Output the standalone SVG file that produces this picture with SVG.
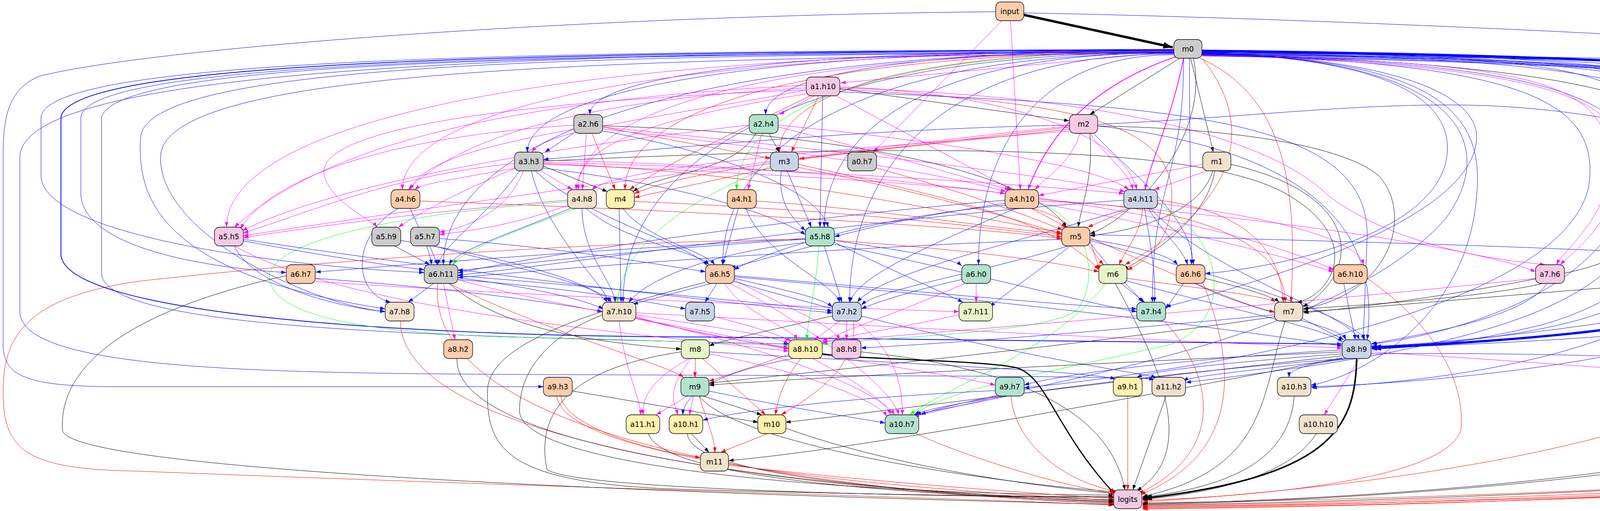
<svg xmlns="http://www.w3.org/2000/svg" width="5416" height="1307" viewBox="0 0 5416 1307">
<style>
#edges path{fill:none;stroke-width:1}
.b{stroke:#0000ff;marker-end:url(#ab)}
.m{stroke:#ff00ff;marker-end:url(#am)}
.r{stroke:#ff0000;marker-end:url(#ar)}
.g{stroke:#00ff00;marker-end:url(#ag)}
.k{stroke:#000000;marker-end:url(#ak)}
#edges .w2{stroke-width:2}
#edges .w3{stroke-width:3;marker-end:url(#akM)}
#edges .w4{stroke-width:4;marker-end:url(#akB)}
#edges .kT{stroke:#000000;stroke-width:6;marker-end:url(#akB)}
#edges .bT{stroke:#0000ff;stroke-width:6;marker-end:url(#abB)}
.n rect{stroke:#000;stroke-width:1.3}
.n text{font-family:"DejaVu Sans","Liberation Sans",sans-serif;font-size:18.67px;text-anchor:middle;fill:#000}
.c1{fill:#b3e2cd}.c2{fill:#fdcdac}.c3{fill:#cbd5e8}.c4{fill:#f4cae4}.c5{fill:#e6f5c9}.c6{fill:#fff2ae}.c7{fill:#f1e2cc}.c8{fill:#cccccc}
</style>
<defs>
<marker id="ab" viewBox="0 0 10 7" refX="10" refY="3.5" markerWidth="13" markerHeight="9" orient="auto" markerUnits="userSpaceOnUse"><path d="M0,0L10,3.5L0,7z" fill="#0000ff"/></marker>
<marker id="am" viewBox="0 0 10 7" refX="10" refY="3.5" markerWidth="13" markerHeight="9" orient="auto" markerUnits="userSpaceOnUse"><path d="M0,0L10,3.5L0,7z" fill="#ff00ff"/></marker>
<marker id="ar" viewBox="0 0 10 7" refX="10" refY="3.5" markerWidth="13" markerHeight="9" orient="auto" markerUnits="userSpaceOnUse"><path d="M0,0L10,3.5L0,7z" fill="#ff0000"/></marker>
<marker id="ag" viewBox="0 0 10 7" refX="10" refY="3.5" markerWidth="13" markerHeight="9" orient="auto" markerUnits="userSpaceOnUse"><path d="M0,0L10,3.5L0,7z" fill="#00ff00"/></marker>
<marker id="ak" viewBox="0 0 10 7" refX="10" refY="3.5" markerWidth="13" markerHeight="9" orient="auto" markerUnits="userSpaceOnUse"><path d="M0,0L10,3.5L0,7z" fill="#000000"/></marker>
<marker id="akM" viewBox="0 0 10 7" refX="10" refY="3.5" markerWidth="17" markerHeight="12" orient="auto" markerUnits="userSpaceOnUse"><path d="M0,0L10,3.5L0,7z" fill="#000000"/></marker>
<marker id="akB" viewBox="0 0 10 7" refX="10" refY="3.5" markerWidth="24" markerHeight="17" orient="auto" markerUnits="userSpaceOnUse"><path d="M0,0L10,3.5L0,7z" fill="#000000"/></marker>
<marker id="abB" viewBox="0 0 10 7" refX="10" refY="3.5" markerWidth="24" markerHeight="17" orient="auto" markerUnits="userSpaceOnUse"><path d="M0,0L10,3.5L0,7z" fill="#0000ff"/></marker>
</defs>
<rect width="5416" height="1307" fill="#ffffff"/>
<g id="edges">
<path class="kT" d="M2621,38 L3002,121"/>
<path class="m" d="M2565,53 L2236,389"/>
<path class="m" d="M2587,53 L2612,485"/>
<path class="b" d="M2621,33 C3300,45 4600,100 5000,150 C5200,175 5300,190 5340,199"/>
<path class="b" d="M2549,30 C1500,40 400,120 100,195 C20,230 8,300 8,400 L8,880 C8,960 60,989 300,989 L1391,989"/>
<path class="m" d="M3005,132 L2152,212"/>
<path class="k" d="M3020,149 L2790,293"/>
<path class="b" d="M3005,128 C1884,128 1510,210 1510,293"/>
<path class="b" d="M3005,130 C2221,130 1960,211 1960,293"/>
<path class="k" d="M3048,149 L3106,389"/>
<path class="b" d="M3005,129 C1764,129 1350,259 1350,389"/>
<path class="r" d="M3005,132 C2248,132 1995,260 1995,389"/>
<path class="g" d="M3005,131 C2166,131 1886,308 1886,485"/>
<path class="m w2" d="M3010,145 C2850,200 2700,300 2632,485"/>
<path class="m w2" d="M3030,149 C3000,300 2950,400 2931,485"/>
<path class="m" d="M3005,131 C1524,131 1030,308 1030,485"/>
<path class="m" d="M3005,133 C1861,133 1480,309 1480,485"/>
<path class="r" d="M3005,134 C1951,134 1600,310 1600,485"/>
<path class="m" d="M3005,131 C1186,131 580,356 580,581"/>
<path class="b" d="M3005,135 C2334,135 2110,358 2110,581"/>
<path class="b" d="M3005,130 C1603,130 1135,404 1135,677"/>
<path class="b" d="M3005,136 C2139,136 1850,407 1850,677"/>
<path class="b" d="M3005,140 C2630,140 2505,409 2505,677"/>
<path class="b" d="M3005,134 C1948,134 1595,454 1595,773"/>
<path class="b" d="M3005,138 C2383,138 2175,456 2175,773"/>
<path class="b" d="M3030,149 C3030,460 2950,460 2950,773"/>
<path class="r" d="M3077,149 C3200,300 3200,500 2880,677"/>
<path class="b" d="M3045,149 C3045,400 3050,500 3050,677"/>
<path class="b" d="M3005,133 C1500,140 300,150 260,300 L260,700 C270,850 1200,860 2019,880"/>
<path class="b w2" d="M3005,127 C1500,135 180,145 156,300 L156,650 C160,800 1000,860 1800,862 L3436,880"/>
<path class="b" d="M3005,126 C1500,132 120,140 105,300 L105,450 C110,600 700,680 1086,697"/>
<path class="b" d="M3005,130 C1500,138 220,150 207,300 L207,500 C220,650 600,690 733,697"/>
<path class="b" d="M3005,134 C1500,140 380,160 360,350 C350,500 400,700 986,790"/>
<path class="b" d="M3005,136 C1500,150 420,180 411,400 C405,600 800,780 986,797"/>
<path class="b" d="M3005,127 C1500,135 60,160 51,400 L51,800 C60,950 700,955 1400,958 C2200,962 2800,960 2955,970"/>
<path class="bT" d="M3077,130 C4000,140 4550,170 4620,200 C4660,230 4650,400 4650,600 C4650,780 4300,850 3512,890"/>
<path class="b" d="M3077,132 C4000,145 4340,170 4360,300 C4380,450 4300,700 4100,800 C3900,870 3600,885 3512,885"/>
<path class="b" d="M3077,134 C4100,150 4440,190 4445,350 C4450,550 4200,760 3950,830 C3750,880 3600,890 3512,893"/>
<path class="b" d="M3077,131 C3900,140 4170,170 4200,300 C4230,450 4150,650 3900,770 C3750,840 3600,870 3512,880"/>
<path class="b" d="M3077,136 C4100,150 4450,200 4460,500 C4470,800 4000,960 3358,992"/>
<path class="b" d="M3077,141 C4000,160 4220,250 4210,500 C4200,800 3700,900 3036,978"/>
<path class="b" d="M3077,139 C3900,160 4080,260 4070,450 C4060,700 3500,900 2622,992"/>
<path class="b" d="M3077,135 C3600,150 3780,250 3780,350 C3780,500 3500,650 2984,785"/>
<path class="b" d="M3077,136 C3650,150 3730,300 3700,420 C3650,600 3300,680 3085,700"/>
<path class="k" d="M3077,138 C4000,160 4350,250 4345,400 C4340,550 4200,660 4000,700 C3700,760 3450,790 3337,800"/>
<path class="m" d="M3077,141 C3950,165 4150,250 4150,400 C4150,560 4020,650 3995,677"/>
<path class="b" d="M3077,133 C4200,140 4580,180 4580,420 L4580,677"/>
<path class="b" d="M3077,135 C4400,145 4769,190 4769,420 L4769,677"/>
<path class="b" d="M3077,138 C4300,150 4850,190 4850,500 C4850,750 4750,900 4712,965"/>
<path class="b" d="M3077,139 C4400,155 4900,200 4900,500 C4900,750 4830,900 4808,965"/>
<path class="b" d="M3077,140 C4500,160 5000,220 5000,500 L5000,1000 C5000,1100 4970,1130 4965,1157"/>
<path class="b" d="M3077,142 C4600,165 5050,230 5050,500 L5050,1157"/>
<path class="b" d="M3077,143 C4700,170 5200,250 5200,500 L5200,1157"/>
<path class="b" d="M3077,137 C4500,155 5000,180 5060,220 C5090,245 5100,270 5106,293"/>
<path class="b" d="M3077,134 C4500,150 5150,170 5237,205"/>
<path class="m" d="M3077,140 C3900,160 4100,200 4120,400 C4130,550 4000,640 3985,677"/>
<path class="k" d="M3055,149 C3100,350 2900,560 2790,598"/>
<path class="r" d="M3072,149 C3300,250 3320,500 3305,773"/>
<path class="b" d="M3077,137 C3700,150 3800,300 3780,500 C3760,800 3500,960 3356,985"/>
<path class="b" d="M3077,136 C3800,150 3820,400 3700,560 C3400,900 2500,1000 2357,1061"/>
<path class="k" d="M2150,227 L2737,309"/>
<path class="m" d="M2085,245 L1995,293"/>
<path class="m" d="M2064,230 C1700,300 1400,330 1362,389"/>
<path class="r" d="M2096,245 L2026,389"/>
<path class="m" d="M2064,225 C1400,260 1150,380 1045,485"/>
<path class="m" d="M2064,240 C1700,300 1480,360 1475,485"/>
<path class="r" d="M2075,245 C1900,330 1700,420 1612,485"/>
<path class="m" d="M2140,245 L2590,485"/>
<path class="m" d="M2150,222 C2600,240 2880,350 2910,485"/>
<path class="m" d="M2064,218 C1200,260 800,400 600,581"/>
<path class="m" d="M2064,230 C1300,260 800,330 830,450 C850,520 950,560 965,581"/>
<path class="b" d="M2106,245 L2099,581"/>
<path class="r" d="M2150,228 C2700,260 3000,300 3000,500 C3000,620 2930,670 2886,690"/>
<path class="b" d="M2150,235 C3000,270 3500,300 3500,600 L3490,869"/>
<path class="m" d="M2150,225 C3000,250 3300,400 3400,500 C3600,650 3900,670 3955,677"/>
<path class="r" d="M1543,325 L1972,405"/>
<path class="b" d="M1468,341 L1395,389"/>
<path class="m" d="M1470,330 C1200,380 1080,420 1050,485"/>
<path class="m" d="M1501,341 L1491,485"/>
<path class="r" d="M1515,341 L1575,485"/>
<path class="m" d="M1543,330 C2000,380 2400,440 2575,490"/>
<path class="m" d="M1543,325 C2100,380 2700,450 2880,490"/>
<path class="m" d="M1469,320 C1000,350 700,450 615,585"/>
<path class="b" d="M1543,335 C1900,400 2100,500 2120,581"/>
<path class="k" d="M1543,322 C2200,340 2650,450 2730,581"/>
<path class="k" d="M1968,341 L1995,389"/>
<path class="k" d="M1935,341 C1880,440 1700,440 1620,490"/>
<path class="m" d="M1950,341 L1915,485"/>
<path class="m" d="M1993,325 C2300,400 2450,450 2585,485"/>
<path class="m" d="M1993,320 C2400,360 2800,420 2890,485"/>
<path class="m" d="M1918,320 C1200,400 800,500 620,590"/>
<path class="r" d="M2738,325 L2046,406"/>
<path class="b" d="M2738,320 C2200,330 1700,380 1391,408"/>
<path class="m" d="M2738,335 C2200,380 1600,420 1515,485"/>
<path class="r" d="M2740,330 C2300,380 1800,420 1624,495"/>
<path class="m" d="M2765,341 C2740,420 2680,450 2650,485"/>
<path class="m" d="M2790,341 C2830,400 2890,440 2900,485"/>
<path class="m" d="M2738,322 C2000,400 900,560 623,603"/>
<path class="k" d="M2790,341 C2800,450 2770,520 2760,581"/>
<path class="b" d="M2800,341 C2900,450 3050,550 3055,677"/>
<path class="b" d="M2810,322 C3500,400 3520,700 3500,869"/>
<path class="b" d="M2810,318 C3200,300 3500,260 3800,270 C4300,290 4700,450 4760,677"/>
<path class="k" d="M2810,322 C3200,330 3450,380 3530,450 C3620,550 3560,750 3337,790"/>
<path class="m" d="M1320,430 C1150,460 1080,470 1062,485"/>
<path class="m" d="M1385,437 L1465,485"/>
<path class="k" d="M1391,425 L1555,490"/>
<path class="m" d="M1391,420 C1900,440 2400,470 2573,495"/>
<path class="m" d="M1391,415 C2000,430 2600,470 2877,495"/>
<path class="m" d="M1317,418 C1000,450 800,540 623,596"/>
<path class="m" d="M1320,430 C1150,500 1050,560 1020,581"/>
<path class="m" d="M1340,437 C1300,540 1200,580 1125,594"/>
<path class="b" d="M1391,430 C1800,480 2000,560 2062,600"/>
<path class="r" d="M1391,418 C2000,440 2500,560 2718,595"/>
<path class="b" d="M1330,437 C1250,550 1140,620 1120,677"/>
<path class="b" d="M1370,437 C1500,560 1780,630 1810,680"/>
<path class="b" d="M1360,437 C1400,600 1540,720 1560,773"/>
<path class="m" d="M1391,410 C2000,420 3000,500 3414,690"/>
<path class="k" d="M1391,412 C2500,360 3100,380 3300,500 C3500,620 3400,760 3320,773"/>
<path class="r" d="M1972,430 L1624,505"/>
<path class="b" d="M2015,437 L2077,581"/>
<path class="b" d="M2000,437 C1990,520 2030,560 2062,590"/>
<path class="r" d="M2043,428 C2400,500 2600,560 2718,600"/>
<path class="r" d="M2043,420 C2400,500 2700,560 2813,690"/>
<path class="g" d="M1972,425 C1800,500 1600,600 1580,773"/>
<path class="r" d="M2244,430 C2500,500 2650,560 2720,588"/>
<path class="m" d="M3079,420 L2659,500"/>
<path class="m" d="M3090,437 L2955,485"/>
<path class="k" d="M3105,437 C3070,550 2900,590 2790,603"/>
<path class="k" d="M3110,437 C3090,560 2950,650 2875,690"/>
<path class="k" d="M3150,420 C3500,500 3480,700 3335,785"/>
<path class="b" d="M1050,533 C1080,600 1100,640 1105,677"/>
<path class="b" d="M1020,533 C900,600 900,750 1000,773"/>
<path class="r" d="M1075,514 C1800,540 2500,580 2718,610"/>
<path class="m" d="M1453,512 C1100,540 800,580 623,608"/>
<path class="m" d="M1455,525 C1300,580 1200,590 1125,600"/>
<path class="b" d="M1460,533 C1300,600 1170,640 1150,677"/>
<path class="g" d="M1475,533 C1350,580 1180,640 1160,677"/>
<path class="g" d="M1453,516 C1100,540 720,600 690,700 C680,800 900,850 1300,862 C1700,870 1900,880 2019,885"/>
<path class="b" d="M1500,533 C1600,620 1780,640 1815,677"/>
<path class="b" d="M1490,533 C1490,650 1570,720 1575,773"/>
<path class="r" d="M1624,515 C2200,540 2500,580 2718,605"/>
<path class="b" d="M1595,533 C1650,610 1800,640 1830,677"/>
<path class="b" d="M1585,533 L1590,773"/>
<path class="r" d="M1936,514 C2300,540 2500,580 2718,598"/>
<path class="b" d="M1890,533 L1850,677"/>
<path class="b" d="M1910,533 C1950,650 2130,720 2150,773"/>
<path class="b" d="M2573,520 C2300,560 2200,590 2136,605"/>
<path class="r" d="M2640,533 L2730,581"/>
<path class="b" d="M2573,512 C2000,560 1400,650 1172,698"/>
<path class="b" d="M2573,525 C2200,560 1950,650 1879,690"/>
<path class="r" d="M2640,533 C2760,560 2790,640 2825,677"/>
<path class="m" d="M2659,520 C3000,580 3300,660 3414,695"/>
<path class="m" d="M2659,510 C3300,560 3800,640 3931,695"/>
<path class="b" d="M2600,533 C2400,620 2200,700 2175,773"/>
<path class="r" d="M2659,515 C3000,520 3290,600 3290,773"/>
<path class="g" d="M2659,520 C2780,560 2820,700 2760,790 C2700,850 2300,860 2105,880"/>
<path class="r" d="M2895,533 L2785,581"/>
<path class="b" d="M2877,512 C2200,560 1500,670 1172,704"/>
<path class="r" d="M2925,533 C2920,600 2880,640 2865,677"/>
<path class="b" d="M2940,533 C2980,600 3030,640 3040,677"/>
<path class="m" d="M2963,520 C3300,560 3480,620 3490,677"/>
<path class="b" d="M2890,533 C2600,620 2250,700 2195,773"/>
<path class="b" d="M2930,533 C2950,650 2960,720 2955,773"/>
<path class="r" d="M2963,512 C3200,540 3280,650 3285,773"/>
<path class="b" d="M2945,533 C3100,700 3450,800 3480,869"/>
<path class="g" d="M2963,520 C3150,620 3150,820 3000,880 C2700,950 2400,1000 2345,1061"/>
<path class="b" d="M623,616 C800,650 1000,680 1086,690"/>
<path class="b" d="M600,629 C650,740 900,790 986,797"/>
<path class="b" d="M623,612 C1200,700 1900,780 2131,800"/>
<path class="m" d="M600,629 C900,800 1700,860 2019,898"/>
<path class="b" d="M1010,629 L1100,677"/>
<path class="b" d="M1026,615 C1300,660 1520,720 1555,773"/>
<path class="b" d="M1100,629 L1120,677"/>
<path class="b" d="M1110,629 C1300,680 1540,730 1565,773"/>
<path class="b" d="M1125,610 C1500,640 1700,680 1806,695"/>
<path class="b" d="M2062,610 C1500,640 1000,680 808,696"/>
<path class="b" d="M2062,612 C1600,640 1300,680 1172,692"/>
<path class="b" d="M2080,629 L1870,685"/>
<path class="b" d="M2136,615 C2300,640 2440,660 2462,680"/>
<path class="r" d="M2136,615 C2500,640 2700,670 2813,695"/>
<path class="b" d="M2062,620 C1800,650 1650,720 1610,773"/>
<path class="b" d="M2110,629 L2155,773"/>
<path class="b" d="M2136,620 C2300,700 2420,750 2465,773"/>
<path class="b" d="M2136,625 C2500,700 2800,780 2910,797"/>
<path class="g" d="M2096,629 C2092,720 2070,800 2065,869"/>
<path class="r" d="M2062,612 C1400,620 700,680 350,720 C80,760 8,850 8,1000 C8,1150 60,1200 350,1205 C1500,1250 2500,1275 2851,1292"/>
<path class="b" d="M2718,612 C2000,640 1400,690 1172,710"/>
<path class="r" d="M2790,615 L2815,690"/>
<path class="b" d="M2790,612 C2900,630 2990,650 3015,677"/>
<path class="b" d="M2790,600 C3500,620 4500,640 4736,695"/>
<path class="b" d="M2735,629 C2500,700 2250,740 2205,780"/>
<path class="b" d="M2740,629 C2650,700 2560,760 2535,785"/>
<path class="b" d="M2790,620 C2850,700 2900,740 2925,773"/>
<path class="r" d="M2790,608 C3000,700 3200,790 3263,797"/>
<path class="b" d="M2790,615 C3100,700 3450,800 3495,869"/>
<path class="b" d="M808,712 C1200,740 1450,780 1542,797"/>
<path class="m" d="M808,720 C1400,760 2200,790 2455,797"/>
<path class="k" d="M733,705 C300,800 150,950 160,1100 C170,1220 2200,1275 2851,1290"/>
<path class="b" d="M1110,725 L1045,773"/>
<path class="b" d="M1172,710 C1400,740 1500,770 1545,790"/>
<path class="b" d="M1172,715 C1500,740 1700,780 1755,790"/>
<path class="b" d="M1172,705 C1600,740 2000,780 2131,795"/>
<path class="m" d="M1135,725 L1165,869"/>
<path class="k" d="M1150,725 C1300,860 1600,880 1744,893"/>
<path class="m" d="M1172,715 C1400,780 1900,860 2019,893"/>
<path class="r" d="M1150,725 C1400,850 1700,930 1750,965"/>
<path class="r" d="M1120,725 C1080,1200 2500,1275 2851,1288"/>
<path class="b" d="M1835,725 L1805,773"/>
<path class="b" d="M1820,725 L1620,778"/>
<path class="b" d="M1879,712 C2000,740 2100,760 2131,785"/>
<path class="b" d="M1879,705 C2300,740 2700,780 2910,790"/>
<path class="m" d="M1855,725 C1900,800 2030,840 2040,869"/>
<path class="m" d="M1879,715 C2000,780 2130,830 2150,869"/>
<path class="b" d="M1879,708 C2700,780 3200,850 3436,885"/>
<path class="b" d="M1879,720 C2500,900 2900,950 2960,965"/>
<path class="m" d="M1870,725 C2100,850 2290,1000 2300,1061"/>
<path class="k" d="M1806,722 C1500,800 1250,880 1248,1000 C1245,1150 1300,1230 1700,1250 C2200,1265 2600,1270 2851,1270"/>
<path class="b" d="M2462,715 C2350,740 2250,770 2205,790"/>
<path class="m" d="M2499,725 L2499,773"/>
<path class="m" d="M2470,725 C2300,800 2150,850 2105,872"/>
<path class="b" d="M2870,725 L2930,773"/>
<path class="r" d="M2884,712 C3100,740 3250,760 3265,773"/>
<path class="b" d="M2884,718 C3100,780 3400,840 3436,875"/>
<path class="g" d="M2830,725 C2700,900 2400,1000 2330,1061"/>
<path class="k" d="M2855,725 C2950,900 3080,1150 2910,1255"/>
<path class="b" d="M3030,725 L2984,790"/>
<path class="k" d="M3084,712 C3200,740 3260,760 3275,773"/>
<path class="b" d="M3060,725 C3200,800 3430,830 3445,869"/>
<path class="r" d="M3080,725 C3150,900 3200,1150 2920,1265"/>
<path class="b" d="M3440,725 L3470,869"/>
<path class="r" d="M3500,712 C3700,850 3750,1000 3740,1100 C3700,1230 3200,1270 2925,1280"/>
<path class="b" d="M3960,725 C3900,820 3600,860 3510,880"/>
<path class="k" d="M3950,725 C3800,760 3500,780 3335,790"/>
<path class="m" d="M3931,712 C3300,780 2500,840 2105,875"/>
<path class="k" d="M4536,705 C4000,740 3500,790 3335,797"/>
<path class="b" d="M4560,725 C4300,820 3700,880 3510,886"/>
<path class="b" d="M4573,725 C4500,900 3700,980 3356,989"/>
<path class="r" d="M4609,718 C4850,900 4880,1100 4850,1180 C4800,1240 3500,1280 2925,1286"/>
<path class="b" d="M4765,725 C4700,850 3800,880 3510,890"/>
<path class="r" d="M4770,725 C4700,950 4200,1200 2925,1284"/>
<path class="r" d="M1025,821 C1030,1200 2500,1275 2851,1286"/>
<path class="m" d="M1628,805 C1850,840 1990,860 2019,880"/>
<path class="m" d="M1628,810 C1800,860 1950,880 2019,890"/>
<path class="m" d="M1628,800 C2500,850 3200,880 3436,890"/>
<path class="m" d="M1628,815 C2000,900 2400,950 2548,985"/>
<path class="m" d="M1585,821 C1600,950 1640,1020 1640,1061"/>
<path class="m" d="M1628,812 C2000,900 2250,1000 2290,1061"/>
<path class="k" d="M1543,805 C1400,860 1330,950 1330,1050 C1330,1200 2200,1265 2851,1266"/>
<path class="m" d="M1829,810 C1950,840 2000,860 2025,872"/>
<path class="k" d="M2131,808 C1950,850 1850,870 1815,885"/>
<path class="m" d="M2150,821 L2085,869"/>
<path class="m" d="M2168,821 L2167,869"/>
<path class="r" d="M2185,821 C2200,950 2050,1030 2000,1061"/>
<path class="m" d="M2190,821 C2300,900 2310,1000 2310,1061"/>
<path class="m" d="M2455,805 C2300,840 2150,860 2105,878"/>
<path class="r" d="M2980,821 C3100,950 3150,1150 2915,1262"/>
<path class="b" d="M3263,805 C2800,850 2400,880 2204,890"/>
<path class="b" d="M3335,815 L3440,869"/>
<path class="k" d="M3263,810 C2800,880 2000,960 1815,980"/>
<path class="k" d="M3290,821 C3230,1000 3250,1200 2925,1270"/>
<path class="k" d="M1170,917 C1160,1200 2500,1270 2851,1284"/>
<path class="r" d="M1780,917 L1779,965"/>
<path class="m" d="M1765,917 C1650,980 1645,1030 1646,1061"/>
<path class="m" d="M1770,917 C1700,1000 1730,1040 1735,1061"/>
<path class="r" d="M1798,917 L1960,1061"/>
<path class="m" d="M1815,905 C2100,960 2250,1030 2270,1065"/>
<path class="b" d="M1815,900 C2300,930 2800,950 2855,970"/>
<path class="k" d="M1744,900 C1400,950 1380,1100 1400,1200 C1450,1250 2300,1270 2851,1272"/>
<path class="r" d="M2025,905 L1815,975"/>
<path class="b" d="M2030,917 C1800,960 1750,1020 1748,1061"/>
<path class="r" d="M2050,917 C2000,980 1990,1030 1985,1061"/>
<path class="m" d="M2080,917 C2200,980 2270,1030 2280,1061"/>
<path class="k w3" d="M2104,905 C2200,920 2500,920 2600,940 C2680,960 2700,1100 2855,1265"/>
<path class="k" d="M2204,900 C2700,950 2850,1100 2880,1253"/>
<path class="k" d="M3436,900 C2800,930 2000,970 1815,985"/>
<path class="b" d="M3436,895 C3000,920 2700,960 2622,985"/>
<path class="b" d="M3436,905 C3100,930 2950,950 2910,965"/>
<path class="b" d="M3445,917 C3200,950 3050,960 3030,975"/>
<path class="b" d="M3460,917 C3330,930 3300,950 3300,965"/>
<path class="m" d="M3510,900 C4000,930 4500,970 4654,985"/>
<path class="b" d="M3510,905 C4000,900 4650,920 4760,969"/>
<path class="k" d="M3436,910 C2800,980 2200,1060 2011,1080"/>
<path class="b" d="M3440,917 C2900,960 2400,1030 2340,1061"/>
<path class="m" d="M3480,917 L3390,1061"/>
<path class="k" d="M3436,915 C3000,1000 2200,1150 1865,1178"/>
<path class="k w4" d="M3473,917 C3470,1100 3400,1220 2925,1275"/>
<path class="k" d="M1465,1000 C1700,1040 1880,1070 1941,1080"/>
<path class="r" d="M1435,1013 C1450,1100 1700,1160 1793,1170"/>
<path class="r" d="M1425,1013 C1450,1200 2500,1260 2851,1280"/>
<path class="m" d="M1775,1013 L1765,1061"/>
<path class="m" d="M1760,1013 L1680,1061"/>
<path class="k" d="M1800,1013 L1950,1061"/>
<path class="b" d="M1815,1000 C2000,1040 2200,1070 2266,1082"/>
<path class="r" d="M1790,1013 C1810,1080 1830,1120 1830,1157"/>
<path class="k" d="M1790,1013 C1900,1150 2600,1240 2856,1258"/>
<path class="b" d="M2548,999 C2100,1020 1850,1060 1799,1075"/>
<path class="m" d="M2560,1013 C2450,1040 2360,1060 2340,1065"/>
<path class="b" d="M2580,1013 C2450,1040 2360,1055 2345,1061"/>
<path class="r" d="M2588,1013 C2600,1150 2750,1240 2858,1256"/>
<path class="r" d="M2887,1013 L2887,1253"/>
<path class="k" d="M2985,1013 L2900,1253"/>
<path class="k" d="M3313,1013 C3300,1200 3100,1250 2925,1272"/>
<path class="k" d="M4691,1013 C4690,1200 3500,1280 2925,1288"/>
<path class="k" d="M4790,1013 C4750,1200 3500,1282 2925,1290"/>
<path class="k" d="M1660,1109 C1700,1240 2500,1270 2851,1282"/>
<path class="k" d="M1770,1109 L1815,1157"/>
<path class="k" d="M1760,1109 C1760,1230 2500,1270 2851,1278"/>
<path class="r" d="M1965,1109 L1845,1157"/>
<path class="k" d="M2011,1095 C2300,1200 2700,1250 2855,1262"/>
<path class="r" d="M2345,1109 C2500,1180 2750,1250 2855,1262"/>
<path class="k" d="M3370,1109 C3300,1220 3100,1260 2925,1278"/>
<path class="r" d="M1865,1190 C2300,1240 2700,1265 2851,1275"/>
<path class="k" d="M4915,1190 C4700,1240 3500,1285 2925,1292"/>
<path class="r" d="M5013,1195 C4700,1250 3500,1288 2925,1294"/>
<path class="r" d="M5163,1195 C4900,1260 3500,1290 2925,1296"/>
<path class="r" d="M5125,341 L5125,1150 C5125,1250 3500,1292 2925,1298"/>
<path class="r" d="M5274,245 L5274,1150 C5270,1260 3500,1294 2925,1300"/>
<path class="r" d="M5371,245 C5360,400 5350,500 5350,700 L5350,1100 C5340,1260 3500,1296 2925,1302"/>
</g>
<g id="nodes" class="n">
<g id="n-input"><rect class="c2" x="2549" y="5" width="72" height="48" rx="13"/><text x="2585" y="35.5">input</text></g>
<g id="n-m0"><rect class="c8" x="3005" y="101" width="72" height="48" rx="13"/><text x="3041" y="131.5">m0</text></g>
<g id="n-a1.h10"><rect class="c4" x="2064" y="197" width="86" height="48" rx="13"/><text x="2107" y="227.5">a1.h10</text></g>
<g id="n-a9.h6"><rect class="c2" x="5237" y="197" width="74" height="48" rx="13"/><text x="5274" y="227.5">a9.h6</text></g>
<g id="n-a9.h9"><rect class="c5" x="5336" y="197" width="74" height="48" rx="13"/><text x="5373" y="227.5">a9.h9</text></g>
<g id="n-m2"><rect class="c4" x="2738" y="293" width="72" height="48" rx="13"/><text x="2774" y="323.5">m2</text></g>
<g id="n-a2.h6"><rect class="c8" x="1469" y="293" width="74" height="48" rx="13"/><text x="1506" y="323.5">a2.h6</text></g>
<g id="n-a2.h4"><rect class="c1" x="1918" y="293" width="74" height="48" rx="13"/><text x="1955" y="323.5">a2.h4</text></g>
<g id="n-a8.h4"><rect class="c2" x="5088" y="293" width="74" height="48" rx="13"/><text x="5125" y="323.5">a8.h4</text></g>
<g id="n-a3.h3"><rect class="c8" x="1317" y="389" width="74" height="48" rx="13"/><text x="1354" y="419.5">a3.h3</text></g>
<g id="n-m3"><rect class="c3" x="1972" y="389" width="72" height="48" rx="13"/><text x="2008" y="419.5">m3</text></g>
<g id="n-a0.h7"><rect class="c8" x="2170" y="389" width="74" height="48" rx="13"/><text x="2207" y="419.5">a0.h7</text></g>
<g id="n-m1"><rect class="c7" x="3079" y="389" width="72" height="48" rx="13"/><text x="3115" y="419.5">m1</text></g>
<g id="n-a4.h6"><rect class="c2" x="1001" y="485" width="74" height="48" rx="13"/><text x="1038" y="515.5">a4.h6</text></g>
<g id="n-a4.h8"><rect class="c7" x="1453" y="485" width="74" height="48" rx="13"/><text x="1490" y="515.5">a4.h8</text></g>
<g id="n-m4"><rect class="c6" x="1552" y="485" width="72" height="48" rx="13"/><text x="1588" y="515.5">m4</text></g>
<g id="n-a4.h1"><rect class="c2" x="1862" y="485" width="74" height="48" rx="13"/><text x="1899" y="515.5">a4.h1</text></g>
<g id="n-a4.h10"><rect class="c2" x="2573" y="485" width="86" height="48" rx="13"/><text x="2616" y="515.5">a4.h10</text></g>
<g id="n-a4.h11"><rect class="c3" x="2877" y="485" width="86" height="48" rx="13"/><text x="2920" y="515.5">a4.h11</text></g>
<g id="n-a5.h5"><rect class="c4" x="549" y="581" width="74" height="48" rx="13"/><text x="586" y="611.5">a5.h5</text></g>
<g id="n-a5.h9"><rect class="c8" x="952" y="581" width="74" height="48" rx="13"/><text x="989" y="611.5">a5.h9</text></g>
<g id="n-a5.h7"><rect class="c8" x="1051" y="581" width="74" height="48" rx="13"/><text x="1088" y="611.5">a5.h7</text></g>
<g id="n-a5.h8"><rect class="c1" x="2062" y="581" width="74" height="48" rx="13"/><text x="2099" y="611.5">a5.h8</text></g>
<g id="n-m5"><rect class="c2" x="2718" y="581" width="72" height="48" rx="13"/><text x="2754" y="611.5">m5</text></g>
<g id="n-a6.h7"><rect class="c2" x="733" y="677" width="74" height="48" rx="13"/><text x="770" y="707.5">a6.h7</text></g>
<g id="n-a6.h11"><rect class="c8" x="1086" y="677" width="86" height="48" rx="13"/><text x="1129" y="707.5">a6.h11</text></g>
<g id="n-a6.h5"><rect class="c2" x="1806" y="677" width="74" height="48" rx="13"/><text x="1843" y="707.5">a6.h5</text></g>
<g id="n-a6.h0"><rect class="c1" x="2462" y="677" width="74" height="48" rx="13"/><text x="2499" y="707.5">a6.h0</text></g>
<g id="n-m6"><rect class="c5" x="2813" y="677" width="72" height="48" rx="13"/><text x="2849" y="707.5">m6</text></g>
<g id="n-a6.h6"><rect class="c2" x="3011" y="677" width="74" height="48" rx="13"/><text x="3048" y="707.5">a6.h6</text></g>
<g id="n-a6.h10"><rect class="c2" x="3414" y="677" width="86" height="48" rx="13"/><text x="3457" y="707.5">a6.h10</text></g>
<g id="n-a7.h6"><rect class="c4" x="3931" y="677" width="74" height="48" rx="13"/><text x="3968" y="707.5">a7.h6</text></g>
<g id="n-a6.h3"><rect class="c8" x="4536" y="677" width="74" height="48" rx="13"/><text x="4573" y="707.5">a6.h3</text></g>
<g id="n-a7.h9"><rect class="c4" x="4736" y="677" width="74" height="48" rx="13"/><text x="4773" y="707.5">a7.h9</text></g>
<g id="n-a7.h8"><rect class="c7" x="986" y="773" width="74" height="48" rx="13"/><text x="1023" y="803.5">a7.h8</text></g>
<g id="n-a7.h10"><rect class="c7" x="1542" y="773" width="86" height="48" rx="13"/><text x="1585" y="803.5">a7.h10</text></g>
<g id="n-a7.h5"><rect class="c3" x="1755" y="773" width="74" height="48" rx="13"/><text x="1792" y="803.5">a7.h5</text></g>
<g id="n-a7.h2"><rect class="c3" x="2131" y="773" width="74" height="48" rx="13"/><text x="2168" y="803.5">a7.h2</text></g>
<g id="n-a7.h11"><rect class="c5" x="2455" y="773" width="86" height="48" rx="13"/><text x="2498" y="803.5">a7.h11</text></g>
<g id="n-a7.h4"><rect class="c1" x="2910" y="773" width="74" height="48" rx="13"/><text x="2947" y="803.5">a7.h4</text></g>
<g id="n-m7"><rect class="c7" x="3263" y="773" width="72" height="48" rx="13"/><text x="3299" y="803.5">m7</text></g>
<g id="n-a8.h2"><rect class="c2" x="1136" y="869" width="74" height="48" rx="13"/><text x="1173" y="899.5">a8.h2</text></g>
<g id="n-m8"><rect class="c5" x="1744" y="869" width="72" height="48" rx="13"/><text x="1780" y="899.5">m8</text></g>
<g id="n-a8.h10"><rect class="c6" x="2019" y="869" width="86" height="48" rx="13"/><text x="2062" y="899.5">a8.h10</text></g>
<g id="n-a8.h8"><rect class="c4" x="2130" y="869" width="74" height="48" rx="13"/><text x="2167" y="899.5">a8.h8</text></g>
<g id="n-a8.h9"><rect class="c3" x="3436" y="869" width="74" height="48" rx="13"/><text x="3473" y="899.5">a8.h9</text></g>
<g id="n-a9.h3"><rect class="c2" x="1391" y="965" width="74" height="48" rx="13"/><text x="1428" y="995.5">a9.h3</text></g>
<g id="n-m9"><rect class="c1" x="1743" y="965" width="72" height="48" rx="13"/><text x="1779" y="995.5">m9</text></g>
<g id="n-a9.h7"><rect class="c1" x="2548" y="965" width="74" height="48" rx="13"/><text x="2585" y="995.5">a9.h7</text></g>
<g id="n-a9.h1"><rect class="c6" x="2850" y="965" width="74" height="48" rx="13"/><text x="2887" y="995.5">a9.h1</text></g>
<g id="n-a11.h2"><rect class="c7" x="2949" y="965" width="86" height="48" rx="13"/><text x="2992" y="995.5">a11.h2</text></g>
<g id="n-a10.h3"><rect class="c7" x="3270" y="965" width="86" height="48" rx="13"/><text x="3313" y="995.5">a10.h3</text></g>
<g id="n-a9.h8"><rect class="c8" x="4654" y="965" width="74" height="48" rx="13"/><text x="4691" y="995.5">a9.h8</text></g>
<g id="n-a11.h6"><rect class="c7" x="4753" y="965" width="86" height="48" rx="13"/><text x="4796" y="995.5">a11.h6</text></g>
<g id="n-a11.h1"><rect class="c6" x="1603" y="1061" width="86" height="48" rx="13"/><text x="1646" y="1091.5">a11.h1</text></g>
<g id="n-a10.h1"><rect class="c6" x="1713" y="1061" width="86" height="48" rx="13"/><text x="1756" y="1091.5">a10.h1</text></g>
<g id="n-m10"><rect class="c6" x="1940" y="1061" width="72" height="48" rx="13"/><text x="1976" y="1091.5">m10</text></g>
<g id="n-a10.h7"><rect class="c1" x="2266" y="1061" width="86" height="48" rx="13"/><text x="2309" y="1091.5">a10.h7</text></g>
<g id="n-a10.h10"><rect class="c7" x="3326" y="1061" width="98" height="48" rx="13"/><text x="3375" y="1091.5">a10.h10</text></g>
<g id="n-m11"><rect class="c7" x="1793" y="1157" width="72" height="48" rx="13"/><text x="1829" y="1187.5">m11</text></g>
<g id="n-a7.h0"><rect class="c5" x="4915" y="1157" width="74" height="48" rx="13"/><text x="4952" y="1187.5">a7.h0</text></g>
<g id="n-a8.h1"><rect class="c6" x="5013" y="1157" width="74" height="48" rx="13"/><text x="5050" y="1187.5">a8.h1</text></g>
<g id="n-a9.h4"><rect class="c3" x="5163" y="1157" width="74" height="48" rx="13"/><text x="5200" y="1187.5">a9.h4</text></g>
<g id="n-logits"><rect class="c4" x="2851" y="1253" width="72" height="48" rx="13"/><text x="2887" y="1283.5">logits</text></g>
</g>
</svg>
